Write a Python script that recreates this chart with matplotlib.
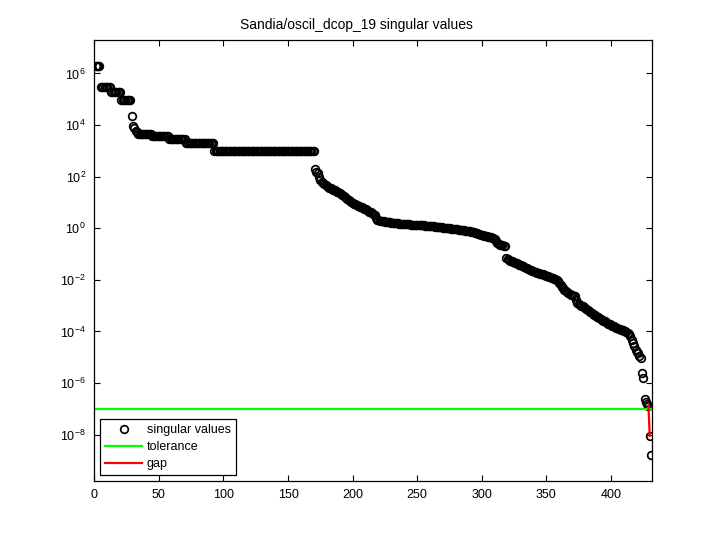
import matplotlib
matplotlib.use('Agg')
import matplotlib.pyplot as plt
import matplotlib.ticker as mticker
import numpy as np

plt.rcParams['font.family'] = ['Liberation Sans', 'DejaVu Sans']
plt.rcParams['mathtext.fontset'] = 'custom'
plt.rcParams['mathtext.rm'] = 'Liberation Sans'

title = 'Sandia/oscil_dcop_19 singular values'

# plateaus at the start (log10 of sigma, how many repeated values)
head_log = [6.30, 5.48, 5.29, 4.98, 4.36, 3.95, 3.87, 3.78, 3.72, 3.67, 3.59, 3.46, 3.31, 2.99]
head_count = [4, 8, 8, 8, 1, 1, 1, 1, 1, 11, 13, 13, 22, 78]

# log10 of sigma, index 171 .. 431
tail_log = [
    2.31, 2.20, 2.14, 1.98, 1.88, 1.81, 1.76, 1.71, 1.66, 1.62,
    1.60, 1.57, 1.55, 1.52, 1.50, 1.47, 1.45, 1.42, 1.39, 1.36,
    1.33, 1.29, 1.25, 1.21, 1.17, 1.13, 1.10, 1.06, 1.02, 0.98,
    0.96, 0.93, 0.91, 0.88, 0.86, 0.83, 0.81, 0.78, 0.76, 0.74, 0.72,
    0.68, 0.65, 0.62, 0.58, 0.55, 0.52, 0.40, 0.33,
    0.31, 0.30, 0.29, 0.28, 0.27, 0.26, 0.25,
    0.24, 0.23, 0.23, 0.22, 0.22, 0.21, 0.20, 0.20, 0.19, 0.18, 0.17,
    0.17, 0.16, 0.16, 0.16, 0.15, 0.15, 0.15, 0.14, 0.14, 0.14, 0.13, 0.13,
    0.12, 0.12, 0.12, 0.11, 0.11, 0.11, 0.10, 0.10, 0.09, 0.09, 0.08, 0.08, 0.07,
    0.07, 0.06, 0.06, 0.05, 0.05, 0.04, 0.04, 0.03, 0.03, 0.02, 0.01, 0.01,
    0.00, -0.01, -0.01, -0.02,
    -0.03, -0.03, -0.04, -0.05, -0.06, -0.07, -0.07, -0.08, -0.09, -0.10, -0.10, -0.11, -0.12,
    -0.13, -0.15, -0.16, -0.18, -0.20, -0.21, -0.23, -0.25,
    -0.26, -0.27, -0.28, -0.30, -0.31, -0.32, -0.34, -0.35, -0.36, -0.38,
    -0.42, -0.50, -0.58, -0.62, -0.64, -0.65, -0.66, -0.68, -0.70,
    -1.15, -1.18, -1.21, -1.25,
    -1.27, -1.30, -1.32, -1.34, -1.36, -1.38, -1.41, -1.43, -1.45, -1.48,
    -1.50, -1.53, -1.55, -1.58, -1.60, -1.62, -1.65, -1.67,
    -1.69, -1.71, -1.72, -1.74, -1.76, -1.77, -1.79, -1.81, -1.82, -1.84,
    -1.86, -1.88, -1.90, -1.92, -1.94, -1.96, -1.98, -2.00,
    -2.05, -2.12, -2.19, -2.26,
    -2.32, -2.38, -2.43, -2.47, -2.51,
    -2.54, -2.57, -2.59, -2.62, -2.64, -2.78, -2.90,
    -2.93, -2.96, -3.00, -3.03, -3.06, -3.09, -3.12, -3.16,
    -3.20, -3.24, -3.27, -3.31, -3.35, -3.38, -3.42,
    -3.45, -3.48, -3.51, -3.54, -3.58, -3.61, -3.64, -3.67,
    -3.70, -3.72, -3.75, -3.77, -3.80, -3.82, -3.85, -3.87,
    -3.89, -3.91, -3.93, -3.95, -3.97, -3.99, -4.02, -4.05,
    -4.10, -4.18, -4.32, -4.45, -4.55, -4.71, -4.78, -4.84, -4.95, -5.03,
    -5.61, -5.81, -6.62, -6.72, -6.80, -6.87, -8.04, -8.78,
]

tol = 1.0e-7

s_log = np.concatenate([np.repeat(head_log, head_count), tail_log])
s = 10.0 ** s_log
n = len(s)
idx = np.arange(1, n + 1)

# gap: last value above tolerance and the next one
k = np.where(s > tol)[0][-1]

fig = plt.figure(figsize=(7.2, 5.4), dpi=100)
ax = fig.add_axes([0.131, 0.11, 0.775, 0.816])

ax.semilogy(idx, s, 'o', color='black', mfc='none', ms=5.5, mew=1.25, label='singular values')
ax.plot([0, n], [tol, tol], color=(0, 1, 0), lw=1.6, label='tolerance')
ax.plot(idx[k:k + 2], s[k:k + 2], color=(1, 0, 0), lw=1.6, label='gap')

ax.set_xlim(0, n + 1)
ax.set_ylim(s.min() / 10, s.max() * 10)

ax.set_xticks(np.arange(0, 401, 50))
ax.yaxis.set_major_locator(mticker.FixedLocator(10.0 ** np.arange(-8, 7, 2)))
ax.yaxis.set_minor_locator(mticker.NullLocator())
ax.yaxis.set_major_formatter(mticker.FuncFormatter(
    lambda v, p: r'$\mathregular{10^{%d}}$' % round(np.log10(v))))

ax.tick_params(direction='in', top=True, right=True, length=4, width=0.8,
               labelsize=9, pad=6)
for sp in ax.spines.values():
    sp.set_linewidth(0.9)

ax.set_title(title, fontsize=10, pad=8, x=0.47)

leg = ax.legend(loc='lower left', fontsize=9, numpoints=1, handlelength=3.0,
                handletextpad=0.35, labelspacing=0.4, borderpad=0.4,
                borderaxespad=0.45, fancybox=False, framealpha=1)
leg.get_frame().set_edgecolor('black')
leg.get_frame().set_linewidth(0.9)

fig.savefig('out.png', dpi=100)
